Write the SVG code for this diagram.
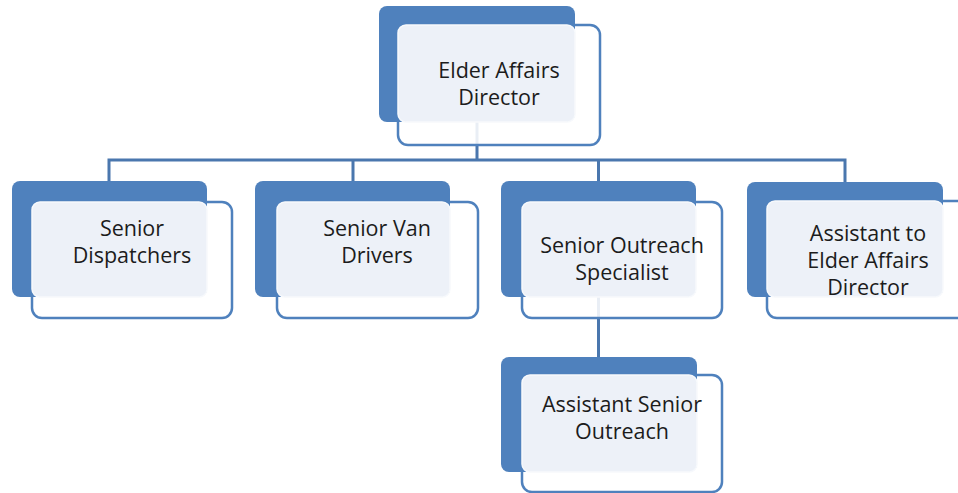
<svg xmlns="http://www.w3.org/2000/svg" width="958" height="493" viewBox="0 0 958 493">
<style>
.back{fill:#4F81BD;}
.front{fill:#FFFFFF;fill-opacity:0.88;stroke:#4F81BD;stroke-width:2.5;}
.light{fill:#EDF1F8;stroke:#F7F9FC;stroke-width:1.5;}
.conn{stroke:#4A77AE;stroke-width:3;fill:none;}
text{font-family:"Open Sans","Liberation Sans",Arial,sans-serif;font-size:21.5px;fill:#1c1c1c;text-anchor:middle;}
</style>
<rect width="958" height="493" fill="#FFFFFF"/>
<g id="connectors">
<path class="conn" d="M477,122 V160 M109,160 H845 M109,158.5 V181 M353,158.5 V181 M598.5,158.5 V181 M845,158.5 V182 M598.5,297 V357"/>
</g>
<g id="node-director">
<rect class="front" x="398" y="25" width="202" height="120" rx="10"/>
<rect class="back" x="379" y="6" width="196" height="116" rx="8"/>
<rect class="light" x="398" y="25" width="177" height="97" rx="8"/>
<text x="499" y="78">Elder Affairs</text>
<text x="499" y="105">Director</text>
</g>
<g id="node-dispatchers">
<rect class="front" x="32" y="202" width="200" height="116" rx="10"/>
<rect class="back" x="12" y="181" width="195" height="116" rx="8"/>
<rect class="light" x="32" y="202" width="175" height="95" rx="8"/>
<text x="132" y="236">Senior</text>
<text x="132" y="263">Dispatchers</text>
</g>
<g id="node-van">
<rect class="front" x="277" y="202" width="201" height="116" rx="10"/>
<rect class="back" x="255" y="181" width="195" height="116" rx="8"/>
<rect class="light" x="277" y="202" width="173" height="95" rx="8"/>
<text x="377" y="236">Senior Van</text>
<text x="377" y="263">Drivers</text>
</g>
<g id="node-outreach">
<rect class="front" x="522" y="202" width="200" height="116" rx="10"/>
<rect class="back" x="501" y="181" width="195" height="116" rx="8"/>
<rect class="light" x="522" y="202" width="174" height="95" rx="8"/>
<text x="622" y="253">Senior Outreach</text>
<text x="622" y="280">Specialist</text>
</g>
<g id="node-assistant-director">
<rect class="front" x="767" y="201" width="202" height="117" rx="10"/>
<rect class="back" x="747" y="182" width="196" height="115" rx="8"/>
<rect class="light" x="767" y="201" width="176" height="96" rx="8"/>
<text x="868" y="241">Assistant to</text>
<text x="868" y="268">Elder Affairs</text>
<text x="868" y="295">Director</text>
</g>
<g id="node-assistant-outreach">
<rect class="front" x="522" y="375" width="200" height="117" rx="10"/>
<rect class="back" x="501" y="357" width="196" height="115" rx="8"/>
<rect class="light" x="522" y="375" width="175" height="97" rx="8"/>
<text x="622" y="412">Assistant Senior</text>
<text x="622" y="439">Outreach</text>
</g>
</svg>
